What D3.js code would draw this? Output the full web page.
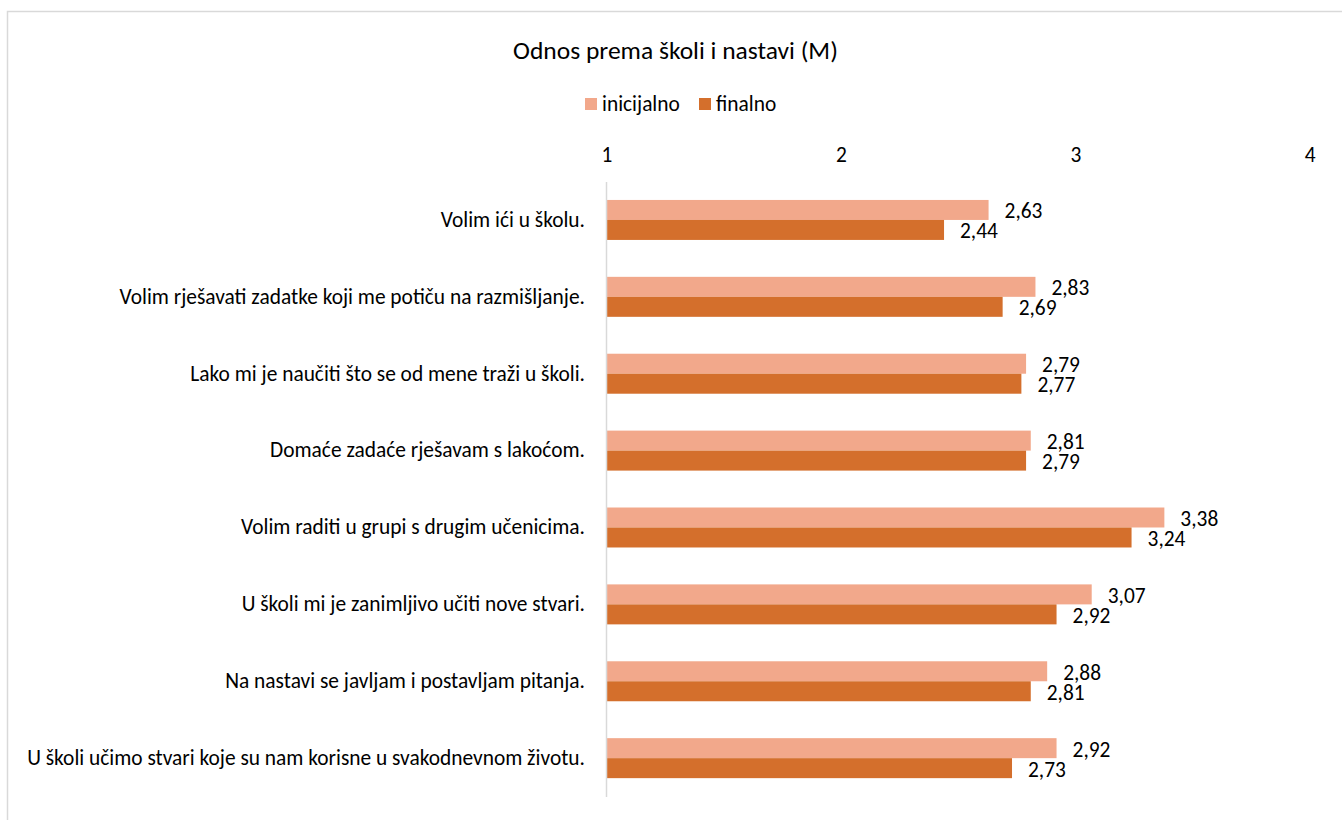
<!DOCTYPE html>
<html><head><meta charset="utf-8">
<script src="https://cdn.jsdelivr.net/npm/d3@7"></script>
<style>
html,body{margin:0;padding:0;background:#fff;}
svg text{font-family:Carlito,Calibri,"Open Sans",sans-serif;fill:#000;}
</style></head>
<body>
<svg id="chart" width="1342" height="820"></svg>
<script>
const categories = [
  "Volim ići u školu.",
  "Volim rješavati zadatke koji me potiču na razmišljanje.",
  "Lako mi je naučiti što se od mene traži u školi.",
  "Domaće zadaće rješavam s lakoćom.",
  "Volim raditi u grupi s drugim učenicima.",
  "U školi mi je zanimljivo učiti nove stvari.",
  "Na nastavi se javljam i postavljam pitanja.",
  "U školi učimo stvari koje su nam korisne u svakodnevnom životu."
];
const inicijalno = [2.63, 2.83, 2.79, 2.81, 3.38, 3.07, 2.88, 2.92];
const finalno    = [2.44, 2.69, 2.77, 2.79, 3.24, 2.92, 2.81, 2.73];
const seriesNames = ["inicijalno", "finalno"];
const xTicks = [1, 2, 3, 4];
const title = "Odnos prema školi i nastavi (M)";

const colors = {inicijalno: "#F2A88B", finalno: "#D46F2C"};
const svg = d3.select("#chart");
const fs = "21.4px";

// chart border
svg.append("rect").attr("x", 7.5).attr("y", 11.5).attr("width", 1400).attr("height", 900)
  .attr("fill", "none").attr("stroke", "#d9d9d9").attr("stroke-width", 1.5);

const x = d3.scaleLinear().domain([1, 4]).range([606.5, 1309.7]);
const y = d3.scaleBand().domain(categories).range([181.5, 796.6]).paddingInner(0.48).paddingOuter(0.24);
const sub = d3.scaleBand().domain(seriesNames).range([0, y.bandwidth()]);

// title
svg.append("text").attr("x", 675.5).attr("y", 50).attr("text-anchor", "middle")
  .attr("dominant-baseline", "central").style("font-size", "25.5px").text(title);

// legend
const legend = svg.append("g");
const legendPos = [{name: "inicijalno", x: 585}, {name: "finalno", x: 699}];
legendPos.forEach(l => {
  legend.append("rect").attr("x", l.x).attr("y", 98).attr("width", 12).attr("height", 12).attr("fill", colors[l.name]);
  legend.append("text").attr("x", l.x + 17).attr("y", 104).attr("dominant-baseline", "central")
    .style("font-size", fs).text(l.name);
});

// x axis (top)
const xAxis = svg.append("g").attr("transform", "translate(0,155)")
  .call(d3.axisTop(x).tickValues(xTicks).tickSize(0).tickPadding(0).tickFormat(d3.format("d")));
xAxis.select(".domain").remove();
xAxis.selectAll("text").attr("dy", null).attr("dominant-baseline", "central").style("font-size", fs);

// bars
const data = [];
categories.forEach((c, i) => {
  data.push({cat: c, s: "inicijalno", v: inicijalno[i]});
  data.push({cat: c, s: "finalno", v: finalno[i]});
});
svg.append("g").selectAll("rect").data(data).join("rect")
  .attr("x", x(1))
  .attr("y", d => y(d.cat) + sub(d.s))
  .attr("width", d => x(d.v) - x(1))
  .attr("height", sub.bandwidth())
  .attr("fill", d => colors[d.s]);

// value labels
svg.append("g").selectAll("text").data(data).join("text")
  .attr("x", d => x(d.v) + 16)
  .attr("y", d => y(d.cat) + sub(d.s) + sub.bandwidth() / 2 + 1.5)
  .attr("dominant-baseline", "central")
  .style("font-size", fs)
  .text(d => d3.format(".2f")(d.v).replace(".", ","));

// y axis (category)
const yAxis = svg.append("g").attr("transform", "translate(606,0)")
  .call(d3.axisLeft(y).tickSize(0).tickPadding(21));
yAxis.select(".domain").attr("stroke", "#d9d9d9").attr("stroke-width", 1.5);
yAxis.selectAll("text").style("font-size", fs);
</script>
</body></html>
